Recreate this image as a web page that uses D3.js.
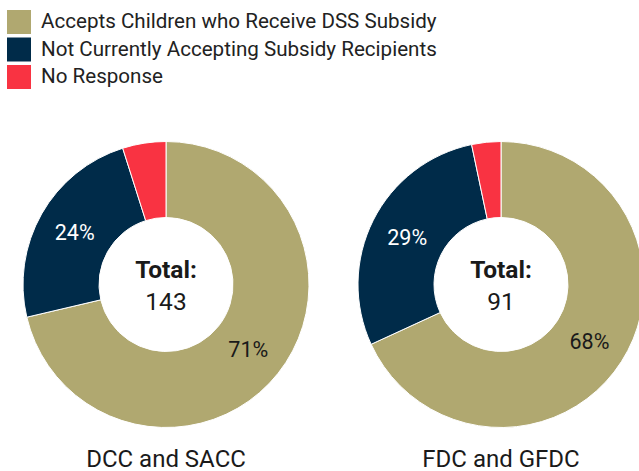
<!DOCTYPE html>
<html><head><meta charset="utf-8">
<script src="https://cdn.jsdelivr.net/npm/d3@7"></script>
<style>body{margin:0;background:#fff;} text{font-family:Roboto,sans-serif;}</style>
</head><body>
<svg id="c" width="639" height="471"></svg>
<script>
const categories = ["Accepts Children who Receive DSS Subsidy","Not Currently Accepting Subsidy Recipients","No Response"];
const colors = ["#B0A870","#002B49","#F93342"];
const groups = ["DCC and SACC","FDC and GFDC"];
const totals = [143, 91];
const dccValues = [102, 34, 7];
const fdcValues = [62, 26, 3];
const pctLabels = [["71%","24%",""],["68%","29%",""]];
const labelColors = ["#1a1a1a","#ffffff","#ffffff"];

const svg = d3.select("#c");
// legend
const lg = svg.append("g");
categories.forEach((c,i)=>{
  const y = 10 + i*27.5;
  lg.append("rect").attr("x",7).attr("y",y).attr("width",24).attr("height",24).attr("fill",colors[i]);
  lg.append("text").attr("x",41).attr("y",y+18).attr("font-size",20.6).attr("fill","#222").text(c);
});

const pie = d3.pie().sort(null).value(d=>d);
const arc = d3.arc().innerRadius(67).outerRadius(143);
const centers = [[166,284.5],[501,284.5]];
[dccValues, fdcValues].forEach((vals,gi)=>{
  const g = svg.append("g").attr("transform",`translate(${centers[gi][0]},${centers[gi][1]})`);
  const arcs = pie(vals);
  g.selectAll("path").data(arcs).join("path").attr("d",arc)
    .attr("fill",(d,i)=>colors[i]).attr("stroke","#fff").attr("stroke-width",1);
  g.selectAll("text.pl").data(arcs).join("text").attr("class","pl")
    .attr("transform",d=>`translate(${arc.centroid(d)})`)
    .attr("text-anchor","middle").attr("dy","0.35em").attr("font-size",21.5)
    .attr("fill",(d,i)=>labelColors[i]).text((d,i)=>pctLabels[gi][i]);
  g.append("text").attr("text-anchor","middle").attr("y",-6.5).attr("font-size",24.5).attr("font-weight","bold").attr("fill","#1a1a1a").text("Total:");
  g.append("text").attr("text-anchor","middle").attr("y",25.5).attr("font-size",24.5).attr("fill","#1a1a1a").text(totals[gi]);
  g.append("text").attr("text-anchor","middle").attr("y",182.5).attr("font-size",24).attr("fill","#1a1a1a").text(groups[gi]);
});
</script>
</body></html>
